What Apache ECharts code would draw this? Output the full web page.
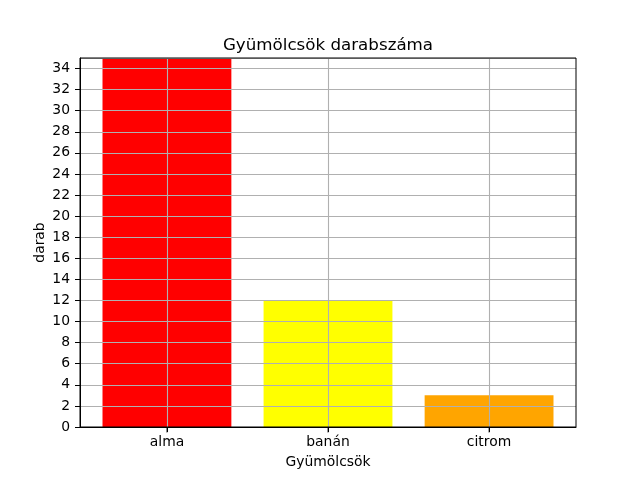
<!DOCTYPE html>
<html><head><meta charset="utf-8">
<script src="https://cdn.jsdelivr.net/npm/echarts@6/dist/echarts.min.js"></script>
<style>html,body{margin:0;padding:0;background:#fff}#c{width:640px;height:480px}</style>
</head><body><div id="c"></div>
<script>
const categories = ['alma', 'banán', 'citrom'];
const values = [35, 12, 3];
const colors = ['#ff0000', '#ffff00', '#ffa500'];
const yMin = 0, yMax = 35, yStep = 2;
const catIdx = categories.map((c, i) => i);

const chart = echarts.init(document.getElementById('c'), null, {renderer: 'canvas'});
const F = 'DejaVu Sans';
const option = {
  animation: false,
  textStyle: {fontFamily: F},
  title: {text: 'Gyümölcsök darabszáma', left: 323, top: 32, textAlign: 'center',
    textStyle: {fontFamily: F, fontSize: 16.7, fontWeight: 'normal', color: '#000'}},
  grid: [
    {left: 80, right: 64, top: 58, bottom: 53, show: true, borderColor: '#000', borderWidth: 1, backgroundColor: 'transparent', z: 6},
    {left: 86.4, right: 70.4, top: 58, bottom: 53}
  ],
  xAxis: [
    {type: 'value', gridIndex: 0, min: -0.54, max: categories.length - 0.46, position: 'bottom',
      axisLine: {show: true, onZero: false, lineStyle: {color: '#000', width: 1}},
      axisTick: {show: true, customValues: catIdx, length: 5, inside: false, lineStyle: {color: '#000', width: 1}},
      axisLabel: {show: true, customValues: catIdx, formatter: v => categories[Math.round(v)] || '',
        color: '#000', fontSize: 13.9, fontFamily: F, margin: 8},
      splitLine: {show: false},
      name: 'Gyümölcsök', nameLocation: 'middle', nameGap: 28, nameMoveOverlap: false,
      nameTextStyle: {color: '#000', fontSize: 13.9, fontFamily: F},
      z: 7},
    {type: 'category', gridIndex: 1, data: categories,
      axisLine: {show: false},
      axisTick: {show: false},
      axisLabel: {show: false},
      splitLine: {show: true, interval: 0, alignWithLabel: true, lineStyle: {color: '#b0b0b0', width: 1.1}},
      z: 5}
  ],
  yAxis: [
    {type: 'value', gridIndex: 0, min: yMin, max: yMax, interval: yStep, position: 'left',
      axisLine: {show: true, onZero: false, lineStyle: {color: '#000', width: 1}},
      axisTick: {show: true, length: 5, lineStyle: {color: '#000', width: 1}},
      axisLabel: {color: '#000', fontSize: 13.9, fontFamily: F, margin: 10, showMaxLabel: false},
      splitLine: {show: true, lineStyle: {color: '#b0b0b0', width: 1.1}},
      name: 'darab', nameLocation: 'middle', nameGap: 33, nameRotate: 90, nameMoveOverlap: false,
      nameTextStyle: {color: '#000', fontSize: 13.9, fontFamily: F},
      z: 5},
    {type: 'value', gridIndex: 1, min: yMin, max: yMax, show: false}
  ],
  series: [{
    type: 'bar', xAxisIndex: 1, yAxisIndex: 1, barWidth: '80%',
    data: values.map((v, i) => ({value: v, itemStyle: {color: colors[i]}})),
    z: 2
  }, {
    type: 'scatter', xAxisIndex: 1, yAxisIndex: 1, silent: true, clip: false,
    symbol: 'rect', symbolSize: [1, 5], symbolOffset: [0, 3],
    itemStyle: {color: '#000'},
    data: categories.map(c => [c, yMin]),
    z: 8
  }]
};
chart.setOption(option);
</script></body></html>
